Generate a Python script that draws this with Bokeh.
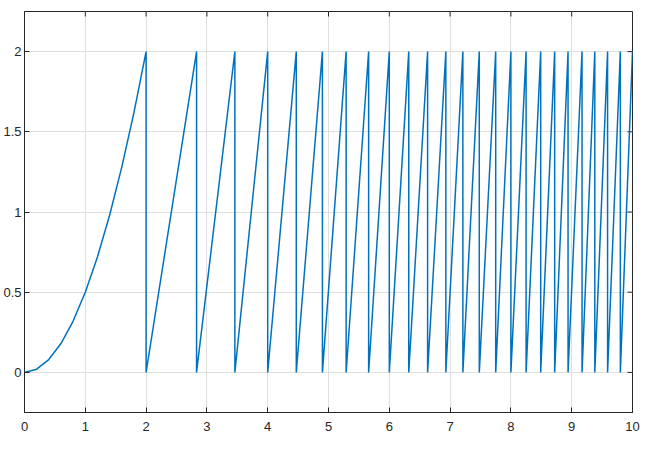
import math
from bokeh.plotting import figure
from bokeh.models import Range1d, LinearAxis, FixedTicker, ColumnDataSource
from bokeh.embed import file_html
from bokeh.resources import INLINE

# Smooth rising part (0 <= x <= 2)
curve_x = [0.0, 0.2, 0.4, 0.6, 0.8, 1.0, 1.2, 1.4, 1.6, 1.8, 2.0]
curve_y = [0.0, 0.02, 0.08, 0.18, 0.32, 0.50, 0.72, 0.98, 1.28, 1.62, 2.0]

# Sawtooth: x positions of the peaks / vertical drops
tooth_x = [2.0, 2.83, 3.46, 4.0, 4.47, 4.90, 5.29, 5.66, 6.0, 6.32, 6.63,
           6.93, 7.21, 7.48, 7.75, 8.0, 8.25, 8.49, 8.72, 8.94, 9.17, 9.38,
           9.59, 9.80, 10.0]
tooth_low = 0.0
tooth_high = 2.0

x_ticks = [0, 1, 2, 3, 4, 5, 6, 7, 8, 9, 10]
x_tick_labels = ["0", "1", "2", "3", "4", "5", "6", "7", "8", "9", "10"]
y_ticks = [0, 0.5, 1, 1.5, 2]
y_tick_labels = ["0", "0.5", "1", "1.5", "2"]

X_MIN, X_MAX = 0, 10
Y_MIN, Y_MAX = -0.25, 2.25

xs = list(curve_x)
ys = list(curve_y)
for prev, peak in zip(tooth_x[:-1], tooth_x[1:]):
    xs += [prev, peak]
    ys += [tooth_low, tooth_high]

src = ColumnDataSource(data=dict(x=xs, y=ys))

AX = "#262626"
FONT = "Liberation Sans"

p = figure(width=644, height=452, output_backend="svg", toolbar_location=None,
           x_range=Range1d(X_MIN, X_MAX), y_range=Range1d(Y_MIN, Y_MAX),
           x_axis_location=None, y_axis_location=None,
           min_border_left=0, min_border_right=12, min_border_top=11,
           min_border_bottom=40)
p.outline_line_color = AX
p.outline_line_width = 1
p.background_fill_color = "white"
p.border_fill_color = "white"

xt = FixedTicker(ticks=x_ticks)
yt = FixedTicker(ticks=y_ticks)

def style(ax, labels):
    ax.axis_line_color = AX
    ax.axis_line_width = 1
    ax.major_tick_line_color = AX
    ax.major_tick_in = 5
    ax.major_tick_out = 0
    ax.minor_tick_line_color = None
    ax.major_label_text_font = FONT
    ax.major_label_text_color = AX
    ax.major_label_text_font_size = "13px"
    ax.major_label_overrides = labels

xb = LinearAxis(ticker=xt)
style(xb, {t: l for t, l in zip(x_ticks, x_tick_labels)})
xb.major_label_standoff = 9
p.add_layout(xb, "below")

yl = LinearAxis(ticker=yt)
style(yl, {t: l for t, l in zip(y_ticks, y_tick_labels)})
yl.major_label_standoff = 3
p.add_layout(yl, "left")

p.xgrid.ticker = xt
p.ygrid.ticker = yt
p.grid.grid_line_color = "#dfdfdf"
p.grid.grid_line_width = 1

# mirrored inward ticks on top and right edges
p.ray(x=x_ticks, y=[Y_MAX] * len(x_ticks), length=5, length_units="screen",
      angle=-math.pi / 2, line_color=AX, line_width=1)
p.ray(x=[X_MAX] * len(y_ticks), y=y_ticks, length=5, length_units="screen",
      angle=math.pi, line_color=AX, line_width=1)

p.line("x", "y", source=src, line_color="#0072BD", line_width=1.5)

open("out.html", "w").write(file_html(p, INLINE))
